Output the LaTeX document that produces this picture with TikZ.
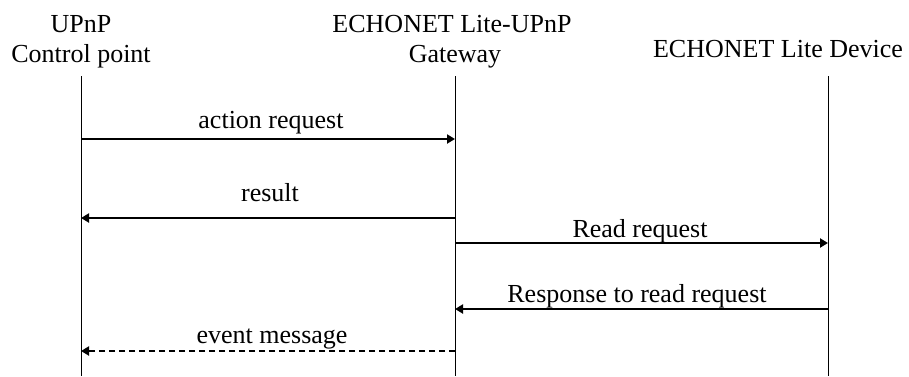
\documentclass[tikz,border=0pt]{standalone}
\usepackage{fontspec}
\setmainfont{Liberation Serif}
\usetikzlibrary{arrows.meta}

\tikzset{
  lifeline/.style={line width=0.5pt},
  msg/.style={line width=1pt, -{Triangle[length=4pt,width=4.5pt]}},
  eventmsg/.style={msg, dash pattern=on 3pt off 2pt},
  lbl/.style={anchor=base, inner sep=0pt, font=\fontsize{13}{15}\selectfont},
}

\begin{document}
\begin{tikzpicture}[x=0.5pt,y=-0.5pt]
  \useasboundingbox (0,0) rectangle (909,376);

  % participants
  \node[lbl] (cp-name1) at (81,32) {UPnP};
  \node[lbl] (cp-name2) at (81,62) {Control point};
  \node[lbl] (gw-name1) at (452,32) {ECHONET Lite-UPnP};
  \node[lbl] (gw-name2) at (455,62) {Gateway};
  \node[lbl] (dev-name) at (778,57) {ECHONET Lite Device};

  % lifelines
  \coordinate (cp-top) at (81,76);   \coordinate (cp-bot) at (81,376);
  \coordinate (gw-top) at (455,76);  \coordinate (gw-bot) at (455,376);
  \coordinate (dev-top) at (828,76); \coordinate (dev-bot) at (828,376);
  \draw[lifeline] (cp-top) -- (cp-bot);
  \draw[lifeline] (gw-top) -- (gw-bot);
  \draw[lifeline] (dev-top) -- (dev-bot);

  % message ends on the lifelines
  \coordinate (cp-act) at (81,139);  \coordinate (gw-act) at (455,139);
  \coordinate (cp-res) at (81,218);  \coordinate (gw-res) at (455,218);
  \coordinate (gw-rd) at (455,243);  \coordinate (dev-rd) at (828,243);
  \coordinate (gw-rsp) at (455,309); \coordinate (dev-rsp) at (828,309);
  \coordinate (cp-ev) at (81,351);   \coordinate (gw-ev) at (455,351);

  % messages
  \draw[msg] (cp-act) -- (gw-act);
  \node[lbl] (act-lbl) at (271,128) {action request};
  \draw[msg] (gw-res) -- (cp-res);
  \node[lbl] (res-lbl) at (270,201) {result};
  \draw[msg] (gw-rd) -- (dev-rd);
  \node[lbl] (rd-lbl) at (640,237) {Read request};
  \draw[msg] (dev-rsp) -- (gw-rsp);
  \node[lbl] (rsp-lbl) at (637,302) {Response to read request};
  \draw[eventmsg] (gw-ev) -- (cp-ev);
  \node[lbl] (ev-lbl) at (272,343) {event message};
\end{tikzpicture}
\end{document}
